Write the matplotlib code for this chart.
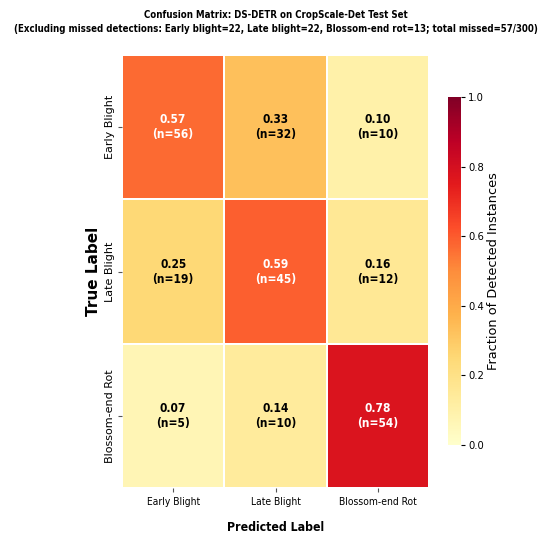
import numpy as np
import matplotlib
matplotlib.use("Agg")
import matplotlib.pyplot as plt
from matplotlib import font_manager as fm
import seaborn as sns

classes = ["Early Blight", "Late Blight", "Blossom-end Rot"]
frac = np.array([[0.57, 0.33, 0.10],
                 [0.25, 0.59, 0.16],
                 [0.07, 0.14, 0.78]])
counts = np.array([[56, 32, 10],
                   [19, 45, 12],
                   [5, 10, 54]])

annot = np.array([["%.2f\n(n=%d)" % (frac[i, j], counts[i, j]) for j in range(3)] for i in range(3)])

# pick a narrow font, the reference text looks squeezed sideways
installed = set((f.name, f.stretch) for f in fm.fontManager.ttflist)
names = set(n for n, s in installed)
cond = None
if ("DejaVu Sans", "condensed") in installed:
    cond = dict(family="DejaVu Sans", stretch="condensed")
else:
    for nm in ["Roboto Condensed", "Open Sans Condensed", "PT Sans Narrow", "Archivo Narrow",
               "Liberation Sans Narrow", "Encode Sans Condensed", "IBM Plex Sans Condensed",
               "Fira Sans Condensed", "Asap Condensed"]:
        if nm in names:
            cond = dict(family=nm)
            break
if cond is None:
    cond = dict(family="DejaVu Sans")
    scale = 0.8
else:
    scale = 1.0

fig = plt.figure(figsize=(5.5, 5.43), dpi=100)
ax = fig.add_axes([122/550, 1-488/543, 307/550, 433/543])
cax = fig.add_axes([448/550, 1-445/543, 13/550, 348/543])

sns.heatmap(frac, ax=ax, cbar_ax=cax, cmap="YlOrRd", vmin=0, vmax=1,
            linewidths=1.2, linecolor="white", annot=False,
            xticklabels=classes, yticklabels=classes)

for i in range(3):
    for j in range(3):
        col = "white" if frac[i, j] > 0.5 else "black"
        ax.text(j + 0.5, i + 0.5, annot[i, j], ha="center", va="center",
                color=col, fontsize=8.6*scale, fontweight="bold", linespacing=1.2, **cond)

ax.set_xticklabels(classes, fontsize=7.4*scale, rotation=0, **cond)
ax.set_yticklabels(classes, fontsize=8, rotation=90, va="center")
ax.tick_params(length=3, width=0.8, color="#555555")
ax.tick_params(axis="y", pad=2)
ax.set_xlabel("Predicted Label", fontsize=8.8*scale, fontweight="bold", labelpad=10, **cond)
ax.set_ylabel("True Label", fontsize=11, fontweight="bold", labelpad=3)

ax.set_title("Confusion Matrix: DS-DETR on CropScale-Det Test Set\n"
             "(Excluding missed detections: Early blight=22, Late blight=22, Blossom-end rot=13; total missed=57/300)",
             fontsize=6.95*scale, fontweight="bold", pad=16.5, linespacing=1.45, **cond)

cb = ax.collections[0].colorbar
cb.set_ticks([0.0, 0.2, 0.4, 0.6, 0.8, 1.0])
cb.ax.set_yticklabels(["0.0", "0.2", "0.4", "0.6", "0.8", "1.0"], fontsize=8*scale, **cond)
cb.ax.tick_params(length=3, width=0.8, pad=2)
cb.outline.set_visible(False)
cb.set_label("Fraction of Detected Instances", fontsize=9.3, labelpad=2)

fig.savefig("out.png", dpi=100)
